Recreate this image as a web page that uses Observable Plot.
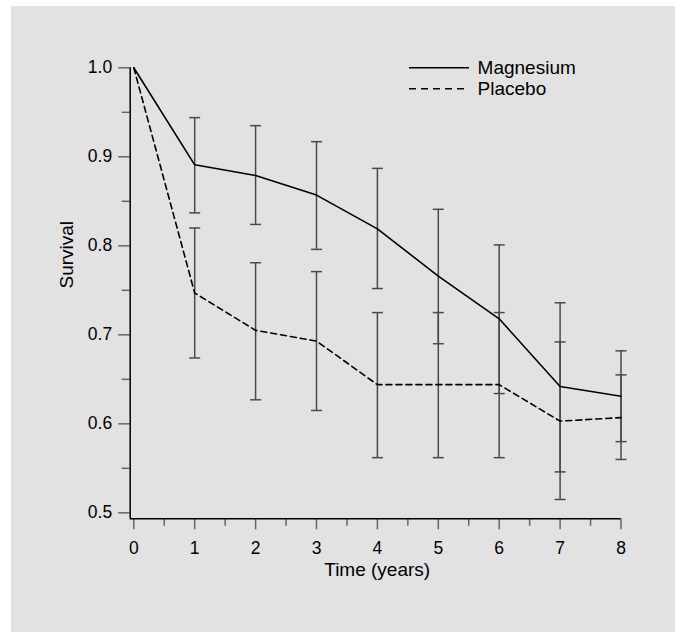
<!DOCTYPE html>
<html>
<head>
<meta charset="utf-8">
<script src="https://cdn.jsdelivr.net/npm/d3@7"></script>
<script src="https://cdn.jsdelivr.net/npm/@observablehq/plot@0.6"></script>
<style>
  html, body { margin: 0; padding: 0; background: #ffffff; }
  #wrap { position: absolute; left: 11px; top: 6px; width: 664px; height: 626px; background: #e2e2e2;
          font-family: "Liberation Sans", Arial, sans-serif; color: #000; }
  #chart { position: absolute; left: 0; top: 0; }
  #legend { position: absolute; left: 398px; top: 50.6px; }
  .row { height: 21.4px; line-height: 21.4px; white-space: nowrap; }
  .row svg { vertical-align: top; }
  .row span { font-size: 19px; margin-left: 8.6px; }
</style>
</head>
<body>
<div id="wrap">
  <div id="chart"></div>
  <div id="legend"></div>
</div>
<script>
// ---- data ----
const years     = [0, 1, 2, 3, 4, 5, 6, 7, 8];
const magnesium = [1.0, 0.891, 0.879, 0.857, 0.819, 0.766, 0.718, 0.642, 0.631];
const magLower  = [null, 0.837, 0.824, 0.796, 0.752, 0.690, 0.634, 0.546, 0.580];
const magUpper  = [null, 0.944, 0.935, 0.917, 0.887, 0.841, 0.801, 0.736, 0.682];
const placebo   = [1.0, 0.747, 0.705, 0.693, 0.644, 0.644, 0.644, 0.603, 0.607];
const plaLower  = [null, 0.674, 0.627, 0.615, 0.562, 0.562, 0.562, 0.515, 0.560];
const plaUpper  = [null, 0.820, 0.781, 0.771, 0.725, 0.725, 0.725, 0.692, 0.655];

const seriesNames = ["Magnesium", "Placebo"];
const xMajor = [0, 1, 2, 3, 4, 5, 6, 7, 8];
const xMinor = [0.5, 1.5, 2.5, 3.5, 4.5, 5.5, 6.5, 7.5];
const yMajor = [0.5, 0.6, 0.7, 0.8, 0.9, 1.0];
const yMinor = [0.55, 0.65, 0.75, 0.85, 0.95];
const xLabel = "Time (years)";
const yLabel = "Survival";

// axis frame starts slightly outside the data range (as in the reference)
const xAxisStart = -0.059;
const yAxisStart = 0.4933;

// ---- derived tables ----
const rows = years.map((year, i) => ({year, magnesium: magnesium[i], placebo: placebo[i]}));
const errRows = [
  ...years.map((x, i) => ({x, lo: magLower[i], hi: magUpper[i]})),
  ...years.map((x, i) => ({x, lo: plaLower[i], hi: plaUpper[i]}))
].filter(d => d.lo != null);

const capSymbol = {
  draw(context, size) {
    const w = Math.sqrt(size / Math.PI);
    context.moveTo(-w, 0);
    context.lineTo(w, 0);
  }
};

const tickColor = "#666";
const barColor = "#4a4a4a";

const chart = Plot.plot({
  width: 664,
  height: 626,
  marginLeft: 118.7,
  marginRight: 54.5,
  marginTop: 61.3,
  marginBottom: 113.7,
  style: {background: "transparent", fontFamily: "'Liberation Sans', Arial, sans-serif", fontSize: "17.5px", overflow: "visible"},
  x: {domain: [xAxisStart, d3.max(years)]},
  y: {domain: [yAxisStart, 1]},
  marks: [
    // axes
    Plot.axisY(yMajor, {tickSize: 11.5, tickPadding: 6.5, tickFormat: d3.format(".1f"), label: null,
      stroke: tickColor, strokeWidth: 1.5, fill: "#000", fontSize: 17.5}),
    Plot.axisY(yMinor, {tickSize: 8, tickFormat: () => "", label: null, stroke: tickColor, strokeWidth: 1.5}),
    Plot.axisX(xMajor, {tickSize: 11, tickPadding: 11.6, tickFormat: d => String(d), label: null,
      stroke: tickColor, strokeWidth: 1.5, fill: "#000", fontSize: 17.5}),
    Plot.axisX(xMinor, {tickSize: 7.5, tickFormat: () => "", label: null, stroke: tickColor, strokeWidth: 1.5}),
    Plot.ruleY([yAxisStart], {x1: xAxisStart, x2: d3.max(years), stroke: "#000", strokeWidth: 1.5}),
    Plot.ruleX([xAxisStart], {y1: yAxisStart, y2: 1, stroke: "#000", strokeWidth: 1.5}),
    // error bars
    Plot.ruleX(errRows, {x: "x", y1: "lo", y2: "hi", stroke: barColor, strokeWidth: 1.5}),
    Plot.dot(errRows, {x: "x", y: "hi", symbol: capSymbol, r: 5.5, stroke: barColor, strokeWidth: 1.5, fill: "none"}),
    Plot.dot(errRows, {x: "x", y: "lo", symbol: capSymbol, r: 5.5, stroke: barColor, strokeWidth: 1.5, fill: "none"}),
    // survival curves
    Plot.line(rows, {x: "year", y: "magnesium", stroke: "#000", strokeWidth: 1.6}),
    Plot.line(rows, {x: "year", y: "placebo", stroke: "#000", strokeWidth: 1.6, strokeDasharray: "6,4"}),
    // axis titles
    Plot.text([yLabel], {text: d => d, frameAnchor: "left", rotate: -90, dx: -63, dy: -4.8, fontSize: 19, fill: "#000"}),
    Plot.text([xLabel], {text: d => d, frameAnchor: "bottom", dx: 1.6, dy: 56.7, fontSize: 19, fill: "#000"})
  ]
});
document.getElementById("chart").appendChild(chart);

// legend
const legend = document.getElementById("legend");
const dashes = [null, "7,5"];
seriesNames.forEach((name, i) => {
  const row = document.createElement("div");
  row.className = "row";
  const w = dashes[i] ? 56 : 60;
  row.innerHTML = `<svg width="60" height="21.4"><line x1="0" x2="${w}" y1="10.7" y2="10.7" stroke="#000" stroke-width="1.6"${dashes[i] ? ` stroke-dasharray="${dashes[i]}"` : ""}/></svg><span>${name}</span>`;
  legend.appendChild(row);
});
</script>
</body>
</html>
